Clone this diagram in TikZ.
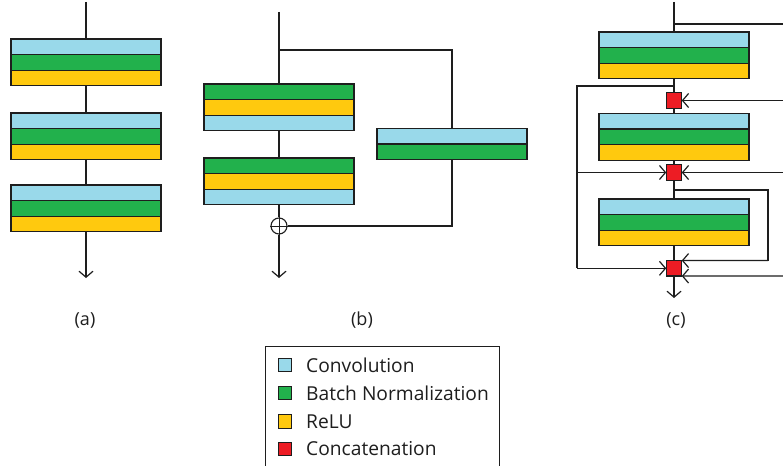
\documentclass[tikz,border=0pt]{standalone}
\usepackage{fontspec}
\setmainfont{Open Sans}
\usetikzlibrary{arrows.meta}
\definecolor{convc}{HTML}{99D9EA}
\definecolor{bnc}{HTML}{22B14C}
\definecolor{reluc}{HTML}{FFC90E}
\definecolor{catc}{HTML}{ED1C24}
\definecolor{linec}{HTML}{1E1E1E}
\begin{document}
\begin{tikzpicture}[x=1pt,y=-1pt,
  layer/.style={draw=linec, line width=1.2pt, minimum width=150pt, minimum height=15.6pt, inner sep=0pt, outer sep=0pt, anchor=north west},
  conv/.style={layer, fill=convc},
  bn/.style={layer, fill=bnc},
  relu/.style={layer, fill=reluc},
  conn/.style={draw=linec, line width=1.2pt},
  arr/.style={conn, -{Straight Barb[length=6pt,width=14pt]}},
  catsq/.style={draw=linec, fill=catc, line width=1.2pt, minimum size=15.5pt, inner sep=0pt, outer sep=0pt},
  swatch/.style={draw=linec, line width=1pt, minimum size=13.5pt, inner sep=0pt},
  lbl/.style={font=\fontsize{18}{21}\selectfont, text=linec, inner sep=0pt},
  legtxt/.style={font=\fontsize{19.2}{22}\selectfont, text=linec, inner sep=0pt, anchor=west}
]
\useasboundingbox[fill=white] (0,0) rectangle (783,465);

% ---------- (a) ----------
\node[conv] (a1c) at (11,39) {};
\node[bn]   (a1b) at (a1c.south west) {};
\node[relu] (a1r) at (a1b.south west) {};
\node[conv] (a2c) at (11,113) {};
\node[bn]   (a2b) at (a2c.south west) {};
\node[relu] (a2r) at (a2b.south west) {};
\node[conv] (a3c) at (11,185) {};
\node[bn]   (a3b) at (a3c.south west) {};
\node[relu] (a3r) at (a3b.south west) {};
\coordinate (ain) at (86,2);
\coordinate (aout) at (86,278);
\draw[conn] (ain) -- (a1c.north);
\draw[conn] (a1r.south) -- (a2c.north);
\draw[conn] (a2r.south) -- (a3c.north);
\draw[arr] (a3r.south) -- (aout);
\node[lbl] (la) at (85,320) {(a)};

% ---------- (b) ----------
\node[bn]   (b1g) at (204,84) {};
\node[relu] (b1r) at (b1g.south west) {};
\node[conv] (b1c) at (b1r.south west) {};
\node[bn]   (b2g) at (204,158) {};
\node[relu] (b2r) at (b2g.south west) {};
\node[conv] (b2c) at (b2r.south west) {};
\node[conv] (sc)  at (377,128.5) {};
\node[bn]   (sg)  at (sc.south west) {};
\node[circle, draw=linec, line width=1.1pt, minimum size=16pt, inner sep=0pt] (plus) at (279,226) {};
\coordinate (bin) at (279,12);
\coordinate (bsplit) at (279,50);
\coordinate (bright) at (452,50);
\coordinate (bbot) at (452,226);
\coordinate (bout) at (279,278);
\draw[conn] (bin) -- (b1g.north);
\draw[conn] (bsplit) -- (bright) -- (sc.north);
\draw[conn] (b1c.south) -- (b2g.north);
\draw[conn] (b2c.south) -- (plus.north);
\draw[conn] (sg.south) -- (bbot) -- (plus.east);
\draw[conn, line width=1pt] (plus.north) -- (plus.south) (plus.west) -- (plus.east);
\draw[arr] (plus.south) -- (bout);
\node[lbl] (lb) at (362,320) {(b)};

% ---------- (c) ----------
\node[conv] (c1c) at (599,32) {};
\node[bn]   (c1b) at (c1c.south west) {};
\node[relu] (c1r) at (c1b.south west) {};
\node[conv] (c2c) at (599,113.5) {};
\node[bn]   (c2b) at (c2c.south west) {};
\node[relu] (c2r) at (c2b.south west) {};
\node[conv] (c3c) at (599,199) {};
\node[bn]   (c3b) at (c3c.south west) {};
\node[relu] (c3r) at (c3b.south west) {};
\node[catsq] (q1) at (674,100.5) {};
\node[catsq] (q2) at (674,172.5) {};
\node[catsq] (q3) at (674,268.3) {};
\coordinate (cin) at (674,2);
\coordinate (ctop) at (674,24);
\coordinate (ctopr) at (783,24);
\coordinate (csplit) at (674,86);
\coordinate (cleftt) at (577,86);
\coordinate (cleftm) at (577,172.5);
\coordinate (cleftb) at (577,268.3);
\coordinate (cr1) at (783,100.5);
\coordinate (cr2) at (783,172.5);
\coordinate (csplit2) at (674,190);
\coordinate (cloopt) at (768,190);
\coordinate (cloopb) at (768,260.5);
\coordinate (cr3) at (783,276);
\coordinate (cout) at (674,298);
\draw[conn] (cin) -- (c1c.north);
\draw[conn] (ctop) -- (ctopr);
\draw[conn] (c1r.south) -- (q1.north);
\draw[conn] (csplit) -- (cleftt) -- (cleftb);
\draw[arr] (cleftm) -- (q2.west);
\draw[arr] (cleftb) -- (q3.west);
\draw[arr] (cr1) -- (q1.east);
\draw[conn] (q1.south) -- (c2c.north);
\draw[conn] (c2r.south) -- (q2.north);
\draw[arr] (cr2) -- (q2.east);
\draw[conn] (q2.south) -- (c3c.north);
\draw[conn] (csplit2) -- (cloopt) -- (cloopb);
\draw[arr] (cloopb) -- (q3.north east);
\draw[conn] (c3r.south) -- (q3.north);
\draw[arr] (cr3) -- (q3.south east);
\draw[arr] (q3.south) -- (cout);
\node[lbl] (lc) at (676,320) {(c)};

% ---------- legend ----------
\coordinate (lg1) at (265,470);
\coordinate (lg2) at (265,346);
\coordinate (lg3) at (499,346);
\coordinate (lg4) at (499,470);
\draw[draw=linec, line width=0.9pt] (lg1) -- (lg2) -- (lg3) -- (lg4);
\node[swatch, fill=convc] (s1) at (285,365) {};
\node[swatch, fill=bnc]   (s2) at (285,393) {};
\node[swatch, fill=reluc] (s3) at (285,421.5) {};
\node[swatch, fill=catc]  (s4) at (285,449) {};
\node[legtxt] (t1) at (306,365) {Convolution};
\node[legtxt] (t2) at (306,393) {Batch Normalization};
\node[legtxt] (t3) at (306,421.5) {ReLU};
\node[legtxt] (t4) at (306,449) {Concatenation};
\end{tikzpicture}
\end{document}
